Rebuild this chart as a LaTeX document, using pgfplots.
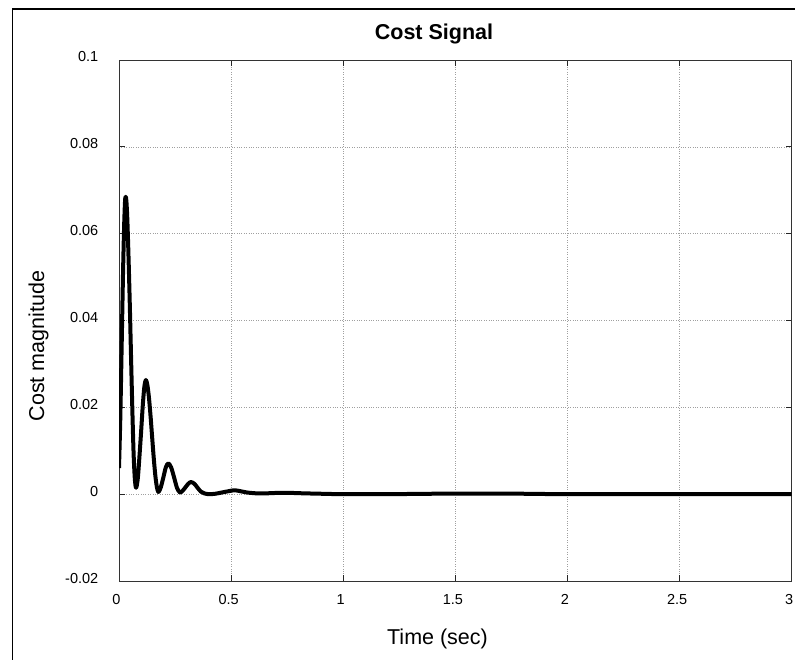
\documentclass[border=0pt]{standalone}
\usepackage{fontspec}
\setmainfont{Liberation Sans}
\usepackage{pgfplots}
\pgfplotsset{compat=1.18}
\usepackage{pgfplotstable}
\pgfplotstableread{
t v
0 0.0060
0.006 0.0180
0.012 0.0345
0.018 0.0510
0.023 0.0620
0.027 0.0675
0.030 0.0685
0.033 0.0675
0.037 0.0635
0.042 0.0555
0.048 0.0440
0.054 0.0310
0.060 0.0185
0.065 0.0095
0.070 0.0040
0.0745 0.0017
0.078 0.0017
0.084 0.0037
0.090 0.0078
0.098 0.0139
0.106 0.0204
0.113 0.0247
0.120 0.0263
0.127 0.0250
0.134 0.0220
0.141 0.0178
0.148 0.0130
0.155 0.0083
0.162 0.0043
0.169 0.0016
0.1755 0.0005
0.182 0.0010
0.1866 0.0016
0.198 0.0039
0.209 0.0062
0.220 0.0071
0.233 0.0061
0.246 0.0038
0.259 0.0014
0.272 0.0004
0.284 0.0008
0.2965 0.0016
0.309 0.0024
0.321 0.0028
0.336 0.0024
0.350 0.0015
0.365 0.0006
0.380 0.0002
0.40 0.0000
0.43 0.0001
0.46 0.0004
0.49 0.0007
0.515 0.0009
0.54 0.0007
0.57 0.0004
0.61 0.0002
0.66 0.0002
0.71 0.0003
0.76 0.0003
0.82 0.0002
0.90 0.0001
1.0 0.0000
1.2 0.0000
1.4 0.0001
1.6 0.0001
1.8 0.0001
2.0 0.0000
2.5 0.0000
3.0 0.0000
}\costdata
\begin{document}
\begin{tikzpicture}
\useasboundingbox (0pt,0pt) rectangle (795pt,-659pt);
\draw[black, line width=1.1pt] (12.3pt,-660pt) -- (12.3pt,-9pt) -- (796pt,-9pt);
\begin{axis}[
  at={(119pt,-581pt)}, anchor=south west,
  scale only axis, width=672.7pt, height=521pt,
  xmin=0, xmax=3, ymin=-0.02, ymax=0.1,
  xtick={0,0.5,1,1.5,2,2.5,3},
  xticklabels={0,0.5,1,1.5,2,2.5,3},
  ytick={-0.02,0,0.02,0.04,0.06,0.08,0.1},
  yticklabels={-0.02,0,0.02,0.04,0.06,0.08,0.1},
  tick align=inside, major tick length=6pt,
  xtick pos=both, ytick pos=both,
  grid=major,
  grid style={dotted, gray!75, line width=0.6pt},
  axis line style={black!80, line width=0.9pt},
  tick style={black!85, line width=0.9pt},
  xticklabel style={font=\fontsize{14.5}{17}\selectfont, anchor=north, inner sep=0pt, yshift=-13.5pt, xshift=-2.5pt},
  yticklabel style={font=\fontsize{14.5}{17}\selectfont, anchor=east, inner sep=0pt, xshift=-20.5pt, yshift=3pt},
  clip=true,
]
\addplot[black, line width=4pt, smooth, line join=round] table[x=t, y=v] {\costdata};
\end{axis}
\node[anchor=base, font=\fontsize{21.5}{24}\selectfont\bfseries] at (434pt,-39.5pt) {Cost Signal};
\node[anchor=base, font=\fontsize{21.5}{24}\selectfont] at (437.5pt,-644pt) {Time (sec)};
\node[anchor=base, rotate=90, font=\fontsize{21.5}{24}\selectfont] at (44pt,-346pt) {Cost magnitude};
\end{tikzpicture}
\end{document}
